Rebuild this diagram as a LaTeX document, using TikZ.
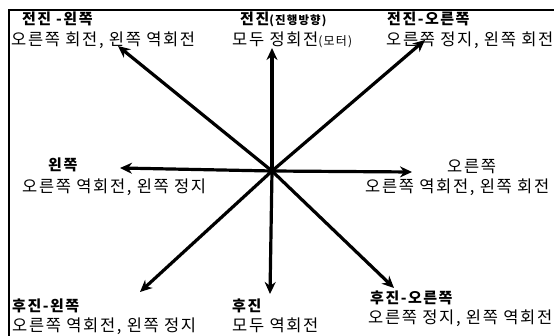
\documentclass[tikz,border=0pt]{standalone}
\usepackage{fontspec}
\setmainfont{Noto Sans CJK KR}[LetterSpace=10]
\usetikzlibrary{arrows.meta}
\tikzset{
  arr/.style={line width=3.2pt, -{Stealth[length=12pt,width=11pt]}},
  ttl/.style={anchor=base west, inner sep=0pt, font=\fontsize{15}{17}\selectfont\bfseries},
  txt/.style={anchor=base west, inner sep=0pt, font=\fontsize{16.5}{19}\selectfont},
  frame/.style={line width=1.6pt}
}
\begin{document}
\begin{tikzpicture}[x=1pt,y=-1pt]
\useasboundingbox (0,0) rectangle (554,336);
\draw[frame] (9,336) -- (9,10) -- (554,10);
\coordinate (c) at (272,171);
\coordinate (n) at (272,48);
\coordinate (s) at (270,294);
\coordinate (w) at (120,168);
\coordinate (e) at (412,172);
\coordinate (ne) at (425,40);
\coordinate (nw) at (118,46);
\coordinate (sw) at (140,292);
\coordinate (se) at (394,288);
\foreach \t in {n,s,w,e,ne,nw,sw,se} \draw[arr] (c) -- (\t);

\node[ttl] (t1) at (22,25) {전진 -왼쪽};
\node[txt] (b1) at (11,46) {오른쪽 회전, 왼쪽 역회전};
\node[ttl] (t2) at (240,25) {전진{\fontsize{11.5}{13}\selectfont(진행방향)}};
\node[txt] (b2) at (232,46) {모두 정회전{\fontsize{12}{14}\selectfont(모터)}};
\node[ttl] (t3) at (387,25) {전진-오른쪽};
\node[txt] (b3) at (386,46) {오른쪽 정지, 왼쪽 회전};
\node[ttl] (t4) at (48,171) {왼쪽};
\node[txt] (b4) at (22,193) {오른쪽 역회전, 왼쪽 정지};
\node[txt] (t5) at (447,173) {오른쪽};
\node[txt] (b5) at (365,193) {오른쪽 역회전, 왼쪽 회전};
\node[ttl] (t6) at (12,312) {후진-왼쪽};
\node[txt] (b6) at (12,332) {오른쪽 역회전, 왼쪽 정지};
\node[ttl] (t7) at (232,312) {후진};
\node[txt] (b7) at (232,332) {모두 역회전};
\node[ttl] (t8) at (370,304) {후진-오른쪽};
\node[txt] (b8) at (368,324) {오른쪽 정지, 왼쪽 역회전};
\end{tikzpicture}
\end{document}
